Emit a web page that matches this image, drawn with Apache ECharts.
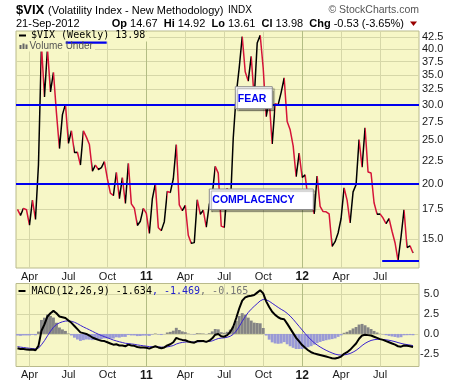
<!DOCTYPE html>
<html>
<head>
<meta charset="utf-8">
<script src="https://cdn.jsdelivr.net/npm/echarts@6.0.0/dist/echarts.min.js"></script>
<style>
html,body{margin:0;padding:0;background:#ffffff;}
#chart{width:460px;height:383px;}
</style>
</head>
<body>
<div id="chart"></div>
<script>
// ================= DATA =================
const firstWeek = '2010-03-12';   // first weekly bar (weeks follow every 7 days)
const vixClose = [
  17.5, 16.97, 17.6, 17.47, 16.14, 18.36, 16.62, 22.05, 40.95, 31.24,
  40.10, 32.07, 35.48, 28.79, 23.95, 28.53, 30.12, 24.6, 26.25, 23.47,
  23.50, 22.0, 26.24, 25.4, 24.45, 21.31, 21.99, 21.5, 21.71, 22.4,
  20.5, 19.03, 18.8, 21.20, 18.5, 20.61, 18.04, 22.2, 18.01, 17.61,
  16.11, 16.47, 17.6, 17.14, 15.46, 18.47, 20.0, 15.93, 15.69, 16.43,
  19.2, 19.1, 20.5, 24.44, 17.91, 17.40, 17.87, 15.32, 14.69, 14.75,
  18.40, 17.07, 17.43, 15.98, 17.95, 18.86, 21.85, 21.10, 16.06, 15.95,
  19.53, 17.52, 25.25, 31.66, 36.36, 42.67, 35.59, 33.92, 38.52, 30.98,
  41.25, 42.96, 36.27, 28.24, 30.8, 24.53, 30.16, 30.04, 32.00, 34.47,
  27.52, 26.38, 24.29, 20.73, 23.40, 20.63, 20.91, 18.28, 18.53, 17.10,
  20.79, 17.78, 17.31, 17.29, 17.11, 14.47, 14.82, 15.50, 16.70, 19.55,
  18.36, 16.32, 19.16, 19.89, 25.10, 21.76, 26.66, 21.23, 21.11, 18.11,
  17.08, 17.10, 16.74, 16.27, 16.70, 15.64, 14.74, 13.45, 15.18, 17.47,
  14.38, 14.51, 13.98
];
const macdLine = [
  -1.8, -1.9, -1.9, -1.95, -2.0, -1.95, -2.05, -1.5, 0.4, 1.2,
  2.2, 2.6, 2.9, 2.6, 2.2, 2.1, 2.0, 1.7, 1.4, 1.0,
  0.6, 0.2, 0.1, 0.0, -0.2, -0.45, -0.6, -0.75, -0.85, -0.9,
  -1.05, -1.2, -1.35, -1.3, -1.45, -1.45, -1.55, -1.35, -1.45, -1.5,
  -1.65, -1.7, -1.7, -1.75, -1.85, -1.7, -1.55, -1.7, -1.8, -1.7,
  -1.45, -1.3, -1.05, -0.5, -0.65, -0.75, -0.8, -0.95, -1.05, -1.1,
  -0.9, -0.9, -0.9, -1.0, -0.85, -0.55, -0.1, 0.0, -0.3, -0.35,
  -0.15, 0.25, 0.9, 2.0, 3.2, 4.2, 4.6, 4.75, 4.8, 4.9,
  5.2, 5.5, 5.1, 4.1, 3.4, 2.8, 2.4, 2.1, 1.9, 1.85,
  1.3, 0.7, 0.1, -0.5, -0.95, -1.4, -1.75, -2.05, -2.3, -2.45,
  -2.55, -2.65, -2.75, -2.85, -2.95, -3.05, -3.1, -3.0, -2.85, -2.5,
  -2.3, -2.0, -1.6, -1.2, -0.6, -0.2, -0.1, -0.15, -0.2, -0.35,
  -0.5, -0.65, -0.75, -0.9, -1.05, -1.2, -1.35, -1.55, -1.6, -1.45,
  -1.5, -1.55, -1.634
];
const signalLine = [
  -1.6, -1.66, -1.71, -1.76, -1.81, -1.84, -1.88, -1.8, -1.36, -0.85,
  -0.24, 0.33, 0.84, 1.19, 1.39, 1.53, 1.62, 1.64, 1.59, 1.47,
  1.3, 1.08, 0.88, 0.7, 0.52, 0.33, 0.14, -0.04, -0.2, -0.34,
  -0.48, -0.62, -0.77, -0.88, -0.99, -1.08, -1.18, -1.21, -1.26, -1.31,
  -1.38, -1.44, -1.49, -1.54, -1.6, -1.62, -1.61, -1.63, -1.66, -1.67,
  -1.63, -1.56, -1.46, -1.27, -1.15, -1.07, -1.02, -1.0, -1.01, -1.03,
  -1.0, -0.98, -0.96, -0.97, -0.95, -0.87, -0.72, -0.58, -0.52, -0.49,
  -0.42, -0.29, -0.05, 0.36, 0.93, 1.58, 2.18, 2.7, 3.12, 3.48,
  3.82, 4.16, 4.35, 4.3, 4.12, 3.86, 3.6, 3.34, 3.1, 2.88,
  2.6, 2.25, 1.85, 1.4, 0.95, 0.5, 0.05, -0.37, -0.76, -1.1,
  -1.39, -1.64, -1.86, -2.06, -2.24, -2.4, -2.54, -2.63, -2.67, -2.64,
  -2.57, -2.46, -2.29, -2.07, -1.78, -1.46, -1.19, -0.98, -0.82, -0.73,
  -0.68, -0.68, -0.7, -0.74, -0.8, -0.88, -0.97, -1.09, -1.19, -1.28,
  -1.34, -1.4, -1.469
];
const xTickDates  = ['2010-04-09','2010-07-09','2010-10-08','2011-01-07','2011-04-08','2011-07-08','2011-10-07','2012-01-06','2012-04-06','2012-07-06'];
const xTickLabels = ['Apr','Jul','Oct','11','Apr','Jul','Oct','12','Apr','Jul'];
const vixTicks  = [15, 17.5, 20, 22.5, 25, 27.5, 30, 32.5, 35, 37.5, 40, 42.5];
const macdTicks = [-2.5, 0, 2.5, 5];
const fearLevel = 30;
const complacencyLevel = 20;
const lowLevel = 13.45;
const lowLineStart = '2012-07-11';
const xStart = '2010-03-08 12';
const xEnd = '2012-10-05';
const vixRange = [12.94, 43.9];
const macdRange = [-4.1, 6.35];

// ================= HELPERS =================
function toTime(s) {
  const parts = s.split(' ');
  const d = parts[0].split('-').map(Number);
  const h = parts[1] ? Number(parts[1]) : 0;
  return new Date(d[0], d[1] - 1, d[2], h).getTime();
}
const fw = firstWeek.split('-').map(Number);
const weekTimes = vixClose.map((_, i) => new Date(fw[0], fw[1] - 1, fw[2] + 7 * i).getTime());
const tickTimes = xTickDates.map(toTime);
const xMin = toTime(xStart), xMax = toTime(xEnd);
const histogram = macdLine.map((m, i) => +(m - signalLine[i]).toFixed(3));

const UP = '#000000', DOWN = '#d41438';
const PLOT_BG = '#f7f7c7', GRID = '#d6d7a8', GRID_YEAR = '#b3bd84', BORDER = '#b9ba8c';
const BLUE = '#0000ee';
const SANS = '"Liberation Sans", Arial, sans-serif';
const MONO = '"DejaVu Sans Mono", monospace';

const pieces = [];
for (let k = 0; k < weekTimes.length - 1; k++) {
  const p = { gte: weekTimes[k], color: vixClose[k + 1] >= vixClose[k] ? UP : DOWN };
  if (k === weekTimes.length - 2) p.lte = weekTimes[k + 1]; else p.lt = weekTimes[k + 1];
  pieces.push(p);
}

function xLabel(v) {
  let idx = -1, best = Infinity;
  tickTimes.forEach((t, i) => { const d = Math.abs(t - v); if (d < best) { best = d; idx = i; } });
  const t = (idx >= 0 && best < 86400000) ? xTickLabels[idx] : '';
  return /^\d+$/.test(t) ? '{y|' + t + '}' : t;
}
function mkX(g) {
  return {
    type: 'value', gridIndex: g, min: xMin, max: xMax, scale: true,
    axisLine: { show: false },
    axisTick: { show: false, customValues: tickTimes },
    axisLabel: {
      customValues: tickTimes, formatter: xLabel, fontSize: 11, color: '#1a1a1a',
      fontFamily: SANS, margin: 3, showMinLabel: true, showMaxLabel: true,
      rich: { y: { fontWeight: 'bold', fontSize: 12, color: '#1a1a1a', fontFamily: SANS } }
    },
    splitLine: { show: true, lineStyle: { color: [GRID, GRID, GRID, GRID_YEAR], width: 1 } }
  };
}

const chart = echarts.init(document.getElementById('chart'), null, { renderer: 'canvas' });

function txt(x, y, text, o) {
  o = o || {};
  return {
    type: 'text', x: x, y: y, z: 100,
    style: Object.assign({
      text: text, fontSize: 11, fontFamily: SANS, fontWeight: 'normal', fill: '#000',
      align: 'left', verticalAlign: 'middle'
    }, o)
  };
}
function rect(x, y, w, h, style) {
  return { type: 'rect', z: 99, shape: { x: x, y: y, width: w, height: h }, style: style };
}

const graphics = [
  txt(16, 10.5, '$VIX', { fontSize: 13, fontWeight: 'bold' }),
  txt(48, 10.5, '(Volatility Index - New Methodology)', { fontSize: 11 }),
  txt(228, 10.5, 'INDX', { fontSize: 10 }),
  txt(419, 10.5, '\u00a9 StockCharts.com', { fontSize: 10.5, fill: '#555', align: 'right' }),
  txt(16, 24, '21-Sep-2012', { fontSize: 11 }),
  txt(404, 24, '{b|Op} 14.67  {b|Hi} 14.92  {b|Lo} 13.61  {b|Cl} 13.98  {b|Chg} -0.53 (-3.65%)', {
    fontSize: 11, align: 'right',
    rich: { b: { fontWeight: 'bold', fontSize: 11, fontFamily: SANS, fill: '#000' } }
  }),
  { type: 'polygon', z: 100, shape: { points: [[410, 21.5], [417, 21.5], [413.5, 26]] }, style: { fill: '#990000' } },
  rect(17, 32, 132, 9.5, { fill: PLOT_BG }),
  rect(17, 41, 78, 10.5, { fill: PLOT_BG }),
  rect(19, 34.5, 7, 2, { fill: '#000' }),
  txt(31, 35.8, '$VIX (Weekly) 13.98', { fontSize: 10, fontFamily: MONO }),
  rect(65.7, 41.5, 41, 2.2, { fill: BLUE }),
  rect(19.5, 45, 2, 4, { fill: '#666' }),
  rect(22.5, 43.5, 2, 5.5, { fill: '#666' }),
  rect(25.5, 44.5, 2, 4.5, { fill: '#666' }),
  txt(29.5, 46.5, 'Volume Under', { fontSize: 10, fill: '#555' }),
  rect(235.3, 86.7, 37, 22, { fill: '#ffffff', stroke: '#8c8c8c', lineWidth: 1, shadowColor: 'rgba(0,0,0,0.35)', shadowOffsetX: 2, shadowOffsetY: 2, shadowBlur: 1 }),
  txt(237.8, 99, 'FEAR', { fontSize: 10.5, fontWeight: 'bold', fill: BLUE }),
  rect(209.3, 189, 104, 20.5, { fill: '#ffffff', stroke: '#8c8c8c', lineWidth: 1, shadowColor: 'rgba(0,0,0,0.35)', shadowOffsetX: 2, shadowOffsetY: 2, shadowBlur: 1 }),
  txt(212.3, 200, 'COMPLACENCY', { fontSize: 10.5, fontWeight: 'bold', fill: BLUE }),
  rect(18.5, 290, 7, 2, { fill: '#000' }),
  txt(31.5, 291, '{k|MACD(12,26,9) -1.634}{b|, -1.469}{g|, -0.165}', {
    fontSize: 10, fontFamily: MONO,
    rich: {
      k: { fontSize: 10, fontFamily: MONO, fill: '#000' },
      b: { fontSize: 10, fontFamily: MONO, fill: '#2222cc' },
      g: { fontSize: 10, fontFamily: MONO, fill: '#777' }
    }
  })
];

const option = {
  animation: false,
  backgroundColor: '#ffffff',
  textStyle: { fontFamily: SANS },
  grid: [
    { left: 16, top: 31, width: 403, height: 237, show: true, backgroundColor: PLOT_BG, borderColor: BORDER, borderWidth: 1 },
    { left: 16, top: 283.5, width: 403, height: 83, show: true, backgroundColor: PLOT_BG, borderColor: BORDER, borderWidth: 1 }
  ],
  xAxis: [mkX(0), mkX(1)],
  yAxis: [
    {
      type: 'log', logBase: 10, gridIndex: 0, position: 'right', min: vixRange[0], max: vixRange[1],
      axisLine: { show: false },
      axisTick: { show: false, customValues: vixTicks },
      axisLabel: { customValues: vixTicks, formatter: v => (+v).toFixed(1), fontSize: 11, color: '#1a1a1a', fontFamily: SANS, margin: 3 },
      splitLine: { show: true, lineStyle: { color: GRID, width: 1 } }
    },
    {
      type: 'value', gridIndex: 1, position: 'right', min: macdRange[0], max: macdRange[1],
      axisLine: { show: false },
      axisTick: { show: false, customValues: macdTicks },
      axisLabel: { customValues: macdTicks, formatter: v => (+v).toFixed(1), fontSize: 11, color: '#1a1a1a', fontFamily: SANS, margin: 20, align: 'right' },
      splitLine: { show: true, lineStyle: { color: GRID, width: 1 } }
    }
  ],
  visualMap: [{
    type: 'piecewise', show: false, dimension: 0, seriesIndex: 0,
    pieces: pieces, outOfRange: { color: UP }
  }],
  series: [
    {
      name: '$VIX', type: 'line', xAxisIndex: 0, yAxisIndex: 0,
      data: weekTimes.map((t, i) => [t, vixClose[i]]),
      showSymbol: false, symbol: 'none',
      lineStyle: { width: 1.5 },
      z: 3,
      markLine: {
        silent: true, symbol: 'none', animation: false,
        label: { show: false },
        lineStyle: { color: BLUE, width: 2, type: 'solid' },
        emphasis: { disabled: true },
        data: [
          { yAxis: fearLevel },
          { yAxis: complacencyLevel },
          [{ coord: [toTime(lowLineStart), lowLevel] }, { coord: [xMax, lowLevel] }]
        ]
      }
    },
    {
      name: 'Hist', type: 'bar', xAxisIndex: 1, yAxisIndex: 1,
      data: weekTimes.map((t, i) => [t, histogram[i]]),
      barWidth: 2.9,
      itemStyle: { color: p => (p.value[1] >= 0 ? '#858585' : '#9a9ad6') },
      z: 2
    },
    {
      name: 'Signal', type: 'line', xAxisIndex: 1, yAxisIndex: 1,
      data: weekTimes.map((t, i) => [t, signalLine[i]]),
      showSymbol: false, symbol: 'none',
      lineStyle: { width: 1, color: '#3a22d0' }, itemStyle: { color: '#3a22d0' },
      z: 3
    },
    {
      name: 'MACD', type: 'line', xAxisIndex: 1, yAxisIndex: 1,
      data: weekTimes.map((t, i) => [t, macdLine[i]]),
      showSymbol: false, symbol: 'none',
      lineStyle: { width: 2, color: '#000' }, itemStyle: { color: '#000' },
      z: 4
    }
  ],
  graphic: { elements: graphics }
};
chart.setOption(option);
</script>
</body>
</html>
